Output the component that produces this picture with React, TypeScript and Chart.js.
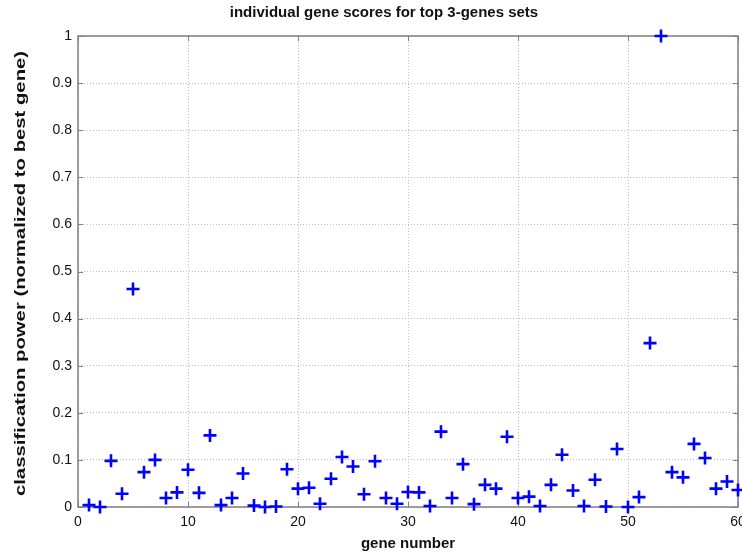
import React, { useEffect, useRef } from "react";
import { Chart, registerables } from "chart.js";

Chart.register(...registerables);

const chartTitle = "individual gene scores for top 3-genes sets";
const xAxisTitle = "gene number";
const yAxisTitle = "classification power (normalized to best gene)";

const geneNumbers = [
  1, 2, 3, 4, 5, 6, 7, 8, 9, 10, 11, 12, 13, 14, 15, 16, 17, 18, 19, 20,
  21, 22, 23, 24, 25, 26, 27, 28, 29, 30, 31, 32, 33, 34, 35, 36, 37, 38, 39, 40,
  41, 42, 43, 44, 45, 46, 47, 48, 49, 50, 51, 52, 53, 54, 55, 56, 57, 58, 59, 60,
];
const geneScores = [
  0.004, 0.0, 0.098, 0.028, 0.463, 0.074, 0.1, 0.019, 0.031, 0.079,
  0.03, 0.152, 0.004, 0.019, 0.071, 0.003, 0.0, 0.001, 0.08, 0.039,
  0.041, 0.007, 0.06, 0.106, 0.086, 0.027, 0.097, 0.019, 0.007, 0.032,
  0.031, 0.002, 0.16, 0.019, 0.091, 0.006, 0.047, 0.039, 0.149, 0.019,
  0.022, 0.002, 0.047, 0.111, 0.035, 0.002, 0.058, 0.001, 0.123, 0.0,
  0.021, 0.348, 1.0, 0.074, 0.063, 0.134, 0.104, 0.039, 0.054, 0.036,
];
const xTicks = [0, 10, 20, 30, 40, 50, 60];
const yTicks = [0, 0.1, 0.2, 0.3, 0.4, 0.5, 0.6, 0.7, 0.8, 0.9, 1];

const FONT = "'Liberation Sans', Arial, Helvetica, sans-serif";

const framePlugin = {
  id: "matlabFrame",
  beforeDatasetsDraw(chart: any) {
    const { ctx, chartArea: a, scales } = chart;
    ctx.save();
    ctx.strokeStyle = "#7f7f7f";
    ctx.lineWidth = 1.5;
    ctx.strokeRect(a.left, a.top, a.right - a.left, a.bottom - a.top);
    ctx.lineWidth = 1;
    const tl = 5;
    ctx.beginPath();
    for (const v of xTicks) {
      const x = Math.round(scales.x.getPixelForValue(v)) + 0.5;
      ctx.moveTo(x, a.bottom);
      ctx.lineTo(x, a.bottom - tl);
      ctx.moveTo(x, a.top);
      ctx.lineTo(x, a.top + tl);
    }
    for (const v of yTicks) {
      const y = Math.round(scales.y.getPixelForValue(v)) + 0.5;
      ctx.moveTo(a.left, y);
      ctx.lineTo(a.left + tl, y);
      ctx.moveTo(a.right, y);
      ctx.lineTo(a.right - tl, y);
    }
    ctx.stroke();
    ctx.restore();
  },
  afterDraw(chart: any) {
    const { ctx, chartArea: a } = chart;
    ctx.save();
    ctx.fillStyle = "#111";
    ctx.font = `bold 15px ${FONT}`;
    ctx.textAlign = "center";
    ctx.textBaseline = "middle";
    ctx.fillText(chartTitle, 384, 13);
    ctx.restore();

    // y-axis title, stretched along its length like the reference
    ctx.save();
    ctx.fillStyle = "#111";
    ctx.font = `bold 15px ${FONT}`;
    ctx.textAlign = "center";
    ctx.textBaseline = "middle";
    const w = ctx.measureText(yAxisTitle).width;
    const target = (a.bottom - a.top) * 0.945;
    ctx.translate(21, (a.top + a.bottom) / 2 + 2);
    ctx.rotate(-Math.PI / 2);
    ctx.scale(target / w, 1);
    ctx.fillText(yAxisTitle, 0, 0);
    ctx.restore();
  },
};

export default function App() {
  const ref = useRef<HTMLCanvasElement | null>(null);

  useEffect(() => {
    document.body.style.margin = "0";
    const canvas = ref.current;
    if (!canvas) return;
    const chart = new Chart(canvas, {
      type: "scatter",
      data: {
        datasets: [
          {
            data: geneNumbers.map((g, i) => ({ x: g, y: geneScores[i] })),
            pointStyle: "cross",
            pointRadius: 6.5,
            pointBorderWidth: 2.6,
            borderColor: "#0000ff",
            backgroundColor: "#0000ff",
            clip: false as any,
          },
        ],
      },
      plugins: [framePlugin],
      options: {
        animation: false,
        responsive: false,
        devicePixelRatio: 1,
        layout: { padding: { top: 36, right: 4, left: 0, bottom: 0 }, autoPadding: false } as any,
        plugins: {
          legend: { display: false },
          title: { display: false },
          tooltip: { enabled: false },
        },
        scales: {
          x: {
            type: "linear",
            min: 0,
            max: 60,
            afterFit: (s: any) => {
              s.height = 46;
              s.paddingLeft = 0;
              s.paddingRight = 0;
            },
            afterBuildTicks: (s: any) => {
              s.ticks = xTicks.map((v) => ({ value: v }));
            },
            grid: {
              color: "#bdbdbd",
              lineWidth: 1,
              drawTicks: false,
            },
            border: { display: false, dash: [1, 2] } as any,
            ticks: {
              padding: 7,
              color: "#111",
              font: { family: FONT, size: 14 },
              maxRotation: 0,
            },
            title: {
              display: true,
              text: xAxisTitle,
              color: "#111",
              font: { family: FONT, size: 15, weight: "bold" },
              padding: { top: 4, bottom: 0 },
            },
          },
          y: {
            type: "linear",
            min: 0,
            max: 1,
            afterFit: (s: any) => {
              s.width = 78;
              s.paddingTop = 0;
              s.paddingBottom = 0;
            },
            afterBuildTicks: (s: any) => {
              s.ticks = yTicks.map((v) => ({ value: v }));
            },
            grid: {
              color: "#bdbdbd",
              lineWidth: 1,
              drawTicks: false,
            },
            border: { display: false, dash: [1, 2] } as any,
            ticks: {
              padding: 6,
              color: "#111",
              font: { family: FONT, size: 14 },
              callback: (v: any) => String(Math.round(Number(v) * 10) / 10),
            },
            title: { display: false },
          },
        },
      } as any,
    });
    return () => chart.destroy();
  }, []);

  return (
    <div style={{ position: "fixed", left: 0, top: 0, width: 742, height: 553, background: "#fff" }}>
      <canvas ref={ref} width={742} height={553} style={{ width: 742, height: 553 }} />
    </div>
  );
}
